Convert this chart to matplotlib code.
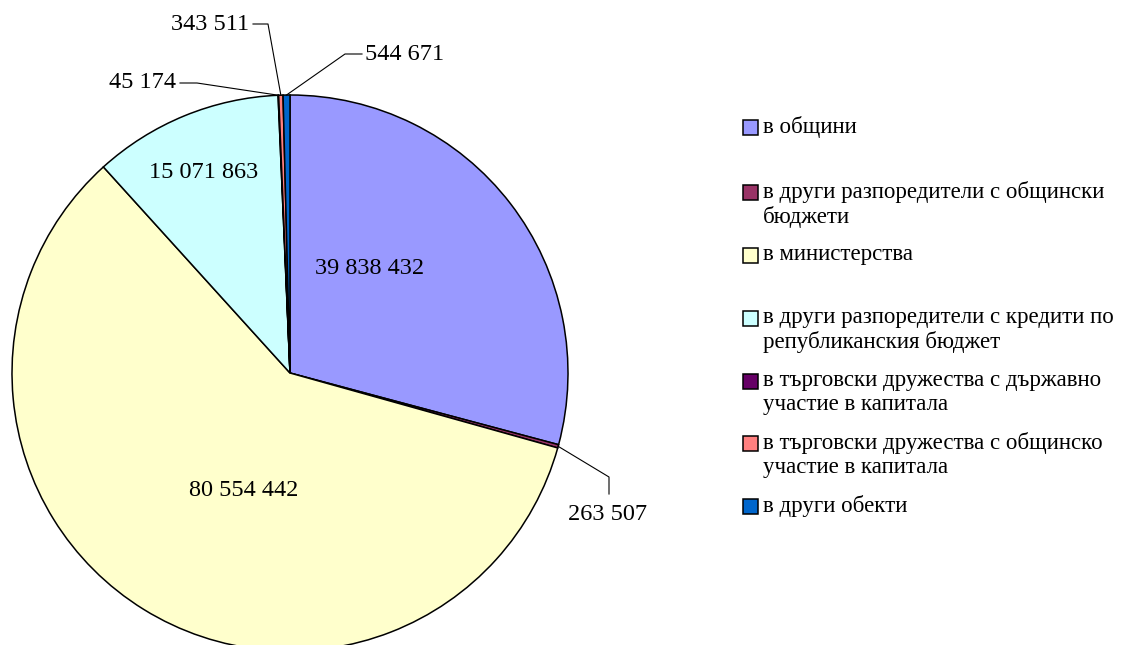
import numpy as np
import matplotlib
matplotlib.use("Agg")
from matplotlib import pyplot as plt
from matplotlib.patches import Rectangle

plt.rcParams['font.family'] = ['Liberation Serif', 'DejaVu Serif']

labels = ['в общини',
          'в други разпоредители с общински\nбюджети',
          'в министерства',
          'в други разпоредители с кредити по\nрепубликанския бюджет',
          'в търговски дружества с държавно\nучастие в капитала',
          'в търговски дружества с общинско\nучастие в капитала',
          'в други обекти']
values = [39838432, 263507, 80554442, 15071863, 45174, 343511, 544671]
colors = ['#9999FF', '#993366', '#FFFFCC', '#CCFFFF', '#660066', '#FF8080', '#0066CC']

W, H = 1122, 645
CX, CY, R = 290, 373, 278


def px(x, y):
    # pixel position -> data units of the pie axes
    return (x - CX) / R, (CY - y) / R


def fmt(v):
    return '{:,}'.format(v).replace(',', ' ')


fig = plt.figure(figsize=(W / 100, H / 100), dpi=100)
ax = fig.add_axes([0, 0, 1, 1])

wedges, _ = ax.pie(values, colors=colors, startangle=90, counterclock=False,
                   radius=1, wedgeprops=dict(edgecolor='black', linewidth=1.1))
ax.set_aspect('auto')
ax.set_xlim(-CX / R, (W - CX) / R)
ax.set_ylim((CY - H) / R, CY / R)
ax.axis('off')

# labels inside the big slices
inner = {0: (370, 268), 2: (244, 490), 3: (204, 173)}
for i, (x, y) in inner.items():
    ax.text(*px(x, y), fmt(values[i]), ha='center', va='center', fontsize=17.5)

# small slices with leader lines: elbow point, end point, text position, alignment
outer = {1: ((609, 477), (609, 494), (608, 515), 'center'),
         4: ((197, 83), (180, 83), (176, 83), 'right'),
         5: ((268, 24), (253, 24), (249, 25), 'right'),
         6: ((345, 54), (362, 54), (365, 55), 'left')}
for i, (elbow, end, tpos, ha) in outer.items():
    w = wedges[i]
    ang = np.deg2rad((w.theta1 + w.theta2) / 2)
    sx, sy = np.cos(ang), np.sin(ang)
    ex, ey = px(*elbow)
    fx, fy = px(*end)
    ax.plot([sx, ex, fx], [sy, ey, fy], color='black', linewidth=0.8)
    ax.text(*px(*tpos), fmt(values[i]), ha=ha, va='center', fontsize=17.5)

# legend
rows = [127, 192, 255, 318, 381, 443, 506]
sq = 15
for lab, col, y in zip(labels, colors, rows):
    x0, y0 = px(743, y + sq / 2)
    ax.add_patch(Rectangle((x0, y0), sq / R, sq / R, facecolor=col,
                           edgecolor='black', linewidth=1.1, clip_on=False))
    ax.text(*px(763, y - 11), lab, ha='left', va='top', fontsize=16.5,
            linespacing=1.2)

fig.savefig('out.png', dpi=100)
